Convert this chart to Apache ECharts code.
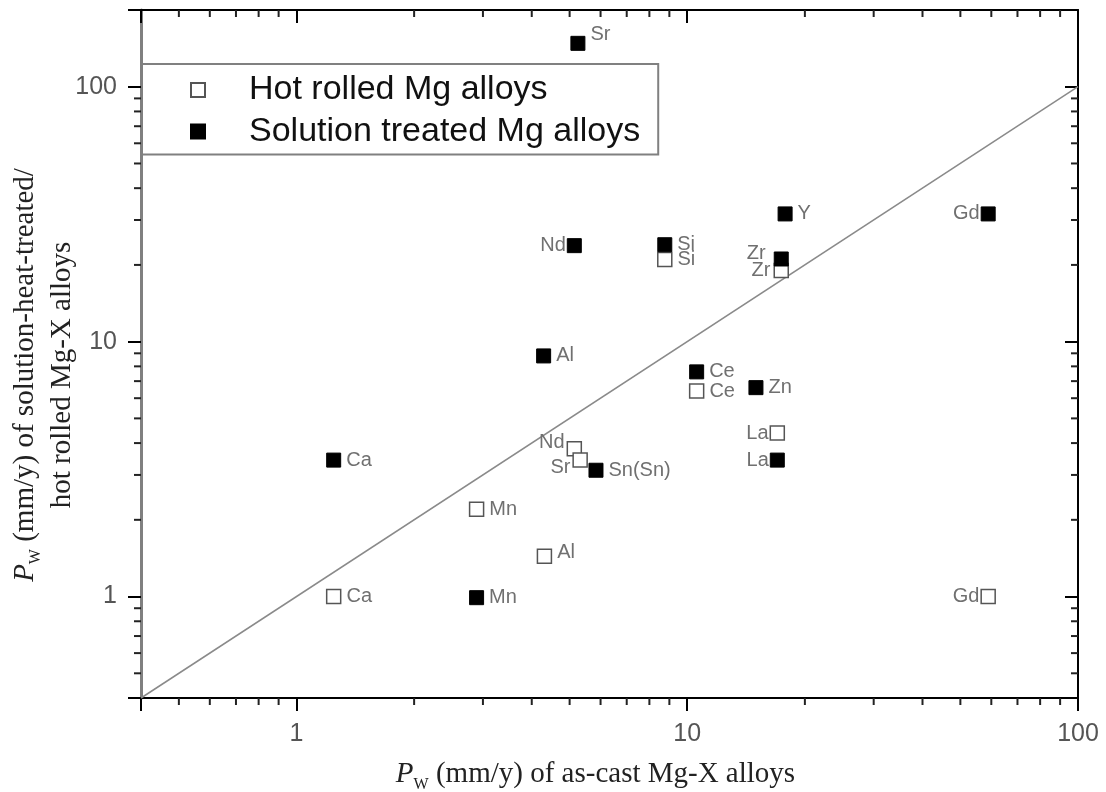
<!DOCTYPE html>
<html><head><meta charset="utf-8">
<script src="https://cdn.jsdelivr.net/npm/echarts@6/dist/echarts.min.js"></script>
<style>html,body{margin:0;padding:0;background:#fff}#c{width:1106px;height:792px}</style>
</head><body><div id="c"></div>
<script>
// ---- data ----
const xRange = [0.4, 100];
const yRange = [0.4, 200];
const refLine = [0.4, 100];
const minorTickValues = [0.5, 0.6, 0.7, 0.8, 0.9, 2, 3, 4, 5, 6, 7, 8, 9, 20, 30, 40, 50, 60, 70, 80, 90];

const hotNames = ['Si', 'Zr', 'Ce', 'La', 'Nd', 'Sr', 'Mn', 'Al', 'Ca', 'Gd'];
const hotX = [8.76, 17.4, 10.57, 17.0, 5.14, 5.32, 2.89, 4.31, 1.245, 58.9];
const hotY = [21.0, 19.0, 6.40, 4.38, 3.80, 3.43, 2.20, 1.44, 1.0, 1.0];

const solNames = ['Sr', 'Y', 'Gd', 'Nd', 'Si', 'Zr', 'Al', 'Ce', 'Zn', 'Ca', 'La', 'Sn(Sn)', 'Mn'];
const solX = [5.25, 17.8, 58.9, 5.14, 8.76, 17.4, 4.29, 10.57, 14.99, 1.245, 17.0, 5.84, 2.89];
const solY = [148, 31.7, 31.7, 23.8, 24.0, 21.1, 8.79, 7.61, 6.60, 3.43, 3.43, 3.13, 0.99];

// ---- styles (label placement per point name) ----
const hotLabelStyle = {
  Zr: { position: 'left', distance: 3 },
  La: { position: 'left', distance: 1 },
  Nd: { position: 'left', distance: 2, offset: [0, -6] },
  Sr: { position: 'left', distance: 2, offset: [0, 7] },
  Gd: { position: 'left', distance: 1 },
  Al: { offset: [0, -4] }
};
const solLabelStyle = {
  Sr: { offset: [0, -9] },
  Gd: { position: 'left', distance: 1 },
  Nd: { position: 'left', distance: 1 },
  Zr: { position: 'left', distance: 8, offset: [0, -6] },
  La: { position: 'left', distance: 1 }
};

const SANS = "'Liberation Sans', Arial, sans-serif";
const SERIF = "'Liberation Serif', 'Times New Roman', serif";

function buildPoints(names, xs, ys, styleMap) {
  return names.map((n, i) => ({
    name: n,
    value: [xs[i], ys[i]],
    label: Object.assign({}, styleMap[n] || {})
  }));
}

const isPow10 = v => Math.abs(Math.log10(v) - Math.round(Math.log10(v))) < 1e-6;

const titleRich = {
  p: { fontFamily: SERIF, fontStyle: 'italic', fontSize: 29, color: '#222', lineHeight: 37 },
  s: { fontFamily: SERIF, fontSize: 16, color: '#222', lineHeight: 22, verticalAlign: 'bottom' },
  t: { fontFamily: SERIF, fontSize: 29, color: '#222', lineHeight: 37 }
};

const axisBase = {
  type: 'log', logBase: 10,
  splitLine: { show: false },
  minorTick: { show: false },
  axisLine: { show: true, lineStyle: { color: '#000', width: 2 } },
  axisTick: { show: true, length: 13, lineStyle: { color: '#000', width: 2 } },
  nameMoveOverlap: false
};

const chart = echarts.init(document.getElementById('c'), null, { renderer: 'canvas' });
chart.setOption({
  animation: false,
  backgroundColor: '#fff',
  grid: { left: 141, right: 28, top: 10, bottom: 94, containLabel: false, outerBoundsMode: 'none' },
  legend: {
    data: ['Hot rolled Mg alloys', 'Solution treated Mg alloys'],
    orient: 'vertical', align: 'left',
    left: 142, top: 64,
    padding: [9, 18, 6, 48],
    itemGap: 7.5,
    itemWidth: 14, itemHeight: 14,
    backgroundColor: '#fff',
    borderColor: '#808080', borderWidth: 2,
    textStyle: { fontFamily: SANS, fontSize: 34, color: '#111', padding: [0, 0, 0, 39] },
    selectedMode: false
  },
  xAxis: [
    Object.assign({}, axisBase, {
      position: 'bottom', min: xRange[0], max: xRange[1],
      axisLabel: { fontFamily: SANS, fontSize: 25, color: '#555', margin: 24,
        formatter: v => isPow10(v) ? String(Math.round(v)) : '' },
      name: '{p|P}{s|W}{t| (mm/y) of as-cast Mg-X alloys}',
      nameLocation: 'middle', nameGap: 58,
      nameTextStyle: { padding: [0, 28, 0, 0], rich: titleRich }
    }),
    Object.assign({}, axisBase, {
      position: 'top', min: xRange[0], max: xRange[1],
      axisLabel: { show: false },
      axisTick: { show: true, inside: true, length: 13, lineStyle: { color: '#000', width: 2 } }
    })
  ],
  yAxis: [
    Object.assign({}, axisBase, {
      position: 'left', min: yRange[0], max: yRange[1],
      axisLine: { show: true, lineStyle: { color: '#808080', width: 3 } },
      axisLabel: { fontFamily: SANS, fontSize: 25, color: '#555', margin: 24,
        formatter: v => isPow10(v) ? String(Math.round(v)) : '' },
      name: '{p|P}{s|W}{t| (mm/y) of solution-heat-treated/}\n{t|hot rolled Mg-X alloys}',
      nameLocation: 'middle', nameGap: 60,
      nameTextStyle: { padding: [0, 42, 0, 0], rich: titleRich, align: 'center' }
    }),
    Object.assign({}, axisBase, {
      position: 'right', min: yRange[0], max: yRange[1],
      axisLabel: { show: false },
      axisTick: { show: true, inside: true, length: 13, lineStyle: { color: '#000', width: 2 } }
    })
  ],
  series: [
    {
      type: 'custom', name: 'minorTicks', silent: true, z: 5,
      xAxisIndex: 0, yAxisIndex: 0,
      data: minorTickValues.map(v => [v, v]),
      renderItem(params, api) {
        const cs = params.coordSys;
        const p = api.coord([api.value(0), api.value(1)]);
        const L = 7, top = cs.y, bottom = cs.y + cs.height, left = cs.x, right = cs.x + cs.width;
        const st = { stroke: '#222', lineWidth: 2 };
        return {
          type: 'group', children: [
            { type: 'line', shape: { x1: p[0], y1: bottom, x2: p[0], y2: bottom + L }, style: st },
            { type: 'line', shape: { x1: p[0], y1: top, x2: p[0], y2: top + L }, style: st },
            { type: 'line', shape: { x1: left - L, y1: p[1], x2: left, y2: p[1] }, style: st },
            { type: 'line', shape: { x1: right - L, y1: p[1], x2: right, y2: p[1] }, style: st }
          ]
        };
      }
    },
    {
      type: 'line', name: 'y = x', silent: true, z: 1,
      data: [[refLine[0], refLine[0]], [refLine[1], refLine[1]]],
      showSymbol: false, symbol: 'none',
      lineStyle: { color: '#8a8a8a', width: 1.5 }
    },
    {
      type: 'scatter', name: 'Hot rolled Mg alloys', z: 3,
      symbol: 'rect', symbolSize: 14,
      itemStyle: { color: '#fff', borderColor: '#555', borderWidth: 1.5, opacity: 1 },
      label: { show: true, position: 'right', distance: 5, formatter: '{b}',
        fontFamily: SANS, fontSize: 20, color: '#707070' },
      data: buildPoints(hotNames, hotX, hotY, hotLabelStyle)
    },
    {
      type: 'scatter', name: 'Solution treated Mg alloys', z: 4,
      symbol: 'rect', symbolSize: 14,
      itemStyle: { color: '#000', borderColor: '#000', borderWidth: 1, opacity: 1 },
      label: { show: true, position: 'right', distance: 5, formatter: '{b}',
        fontFamily: SANS, fontSize: 20, color: '#707070' },
      data: buildPoints(solNames, solX, solY, solLabelStyle)
    }
  ]
});
</script>
</body></html>
